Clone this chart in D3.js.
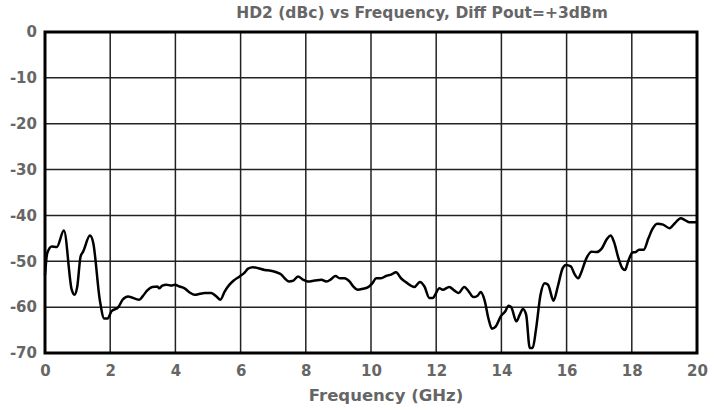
<!DOCTYPE html>
<html>
<head>
<meta charset="utf-8">
<script src="https://cdn.jsdelivr.net/npm/d3@7"></script>
<style>
  body { margin: 0; background: #fff; }
  text { font-family: "DejaVu Sans", sans-serif; font-weight: bold; fill: #666; }
</style>
</head>
<body>
<div id="chart"></div>
<script>
// data
let freq = [0.00, 0.07, 0.21, 0.36, 0.58, 0.82, 0.90, 0.99, 1.09, 1.17, 1.38, 1.48, 1.68, 1.82, 1.92,
    2.04, 2.25, 2.38, 2.55, 2.89, 3.00, 3.13, 3.29, 3.45, 3.50, 3.60, 3.72, 3.88, 3.98, 4.13,
    4.28, 4.44, 4.59, 4.75, 4.90, 5.10, 5.26, 5.38, 5.51, 5.66, 5.79, 5.97, 6.13, 6.23, 6.38,
    6.54, 6.74, 6.89, 7.10, 7.25, 7.35, 7.48, 7.62, 7.76, 7.91, 8.06, 8.27, 8.48, 8.63, 8.78,
    8.91, 9.04, 9.19, 9.34, 9.46, 9.60, 9.75, 9.90, 10.04, 10.16, 10.31, 10.46, 10.62, 10.77, 10.92,
    11.08, 11.33, 11.50, 11.64, 11.79, 11.89, 12.10, 12.20, 12.40, 12.56, 12.69, 12.86, 13.00, 13.14, 13.27,
    13.37, 13.48, 13.61, 13.71, 13.83, 13.98, 14.12, 14.22, 14.30, 14.46, 14.56, 14.66, 14.76, 14.87, 14.96,
    15.06, 15.20, 15.33, 15.43, 15.60, 15.73, 15.88, 15.98, 16.13, 16.23, 16.36, 16.44, 16.61, 16.76, 16.92,
    17.07, 17.25, 17.35, 17.45, 17.59, 17.71, 17.79, 17.89, 18.02, 18.12, 18.22, 18.36, 18.51, 18.63, 18.78,
    18.96, 19.16, 19.32, 19.50, 19.63, 19.77, 19.94, 20.00];
let hd2 = [-53.0, -48.2, -46.8, -46.9, -43.3, -56.2, -57.3, -55.5, -49.0, -47.9, -44.4, -46.0, -58.4, -62.5, -62.5,
    -60.9, -60.0, -58.4, -57.7, -58.4, -57.6, -56.4, -55.6, -55.5, -55.9, -55.3, -55.1, -55.3, -55.1, -55.5,
    -55.9, -56.8, -57.3, -57.1, -56.9, -56.9, -57.7, -58.4, -56.6, -55.1, -54.2, -53.3, -52.4, -51.6, -51.3,
    -51.5, -51.9, -52.0, -52.4, -52.9, -53.7, -54.4, -54.2, -53.3, -54.0, -54.4, -54.2, -54.0, -54.4, -53.9,
    -53.2, -53.7, -53.7, -54.4, -55.5, -56.2, -56.0, -55.7, -54.8, -53.7, -53.7, -53.2, -52.9, -52.4, -53.7,
    -54.6, -55.6, -54.5, -55.5, -58.0, -58.0, -55.9, -56.2, -55.6, -56.4, -56.9, -55.6, -56.6, -57.8, -57.5,
    -56.7, -58.4, -62.7, -64.7, -64.2, -62.0, -60.9, -59.7, -60.0, -63.1, -61.7, -60.4, -61.7, -68.9, -68.9,
    -64.9, -57.3, -54.8, -55.1, -58.6, -55.5, -51.5, -50.8, -51.1, -52.6, -53.7, -52.6, -49.3, -47.9, -48.0,
    -47.3, -45.0, -44.4, -45.7, -49.3, -51.5, -51.9, -50.0, -48.1, -48.0, -47.5, -47.5, -45.0, -43.0, -41.8,
    -42.0, -42.8, -41.7, -40.6, -41.0, -41.5, -41.5, -41.5];
let xTicks = [0, 2, 4, 6, 8, 10, 12, 14, 16, 18, 20];
let yTicks = [0, -10, -20, -30, -40, -50, -60, -70];
let chartTitle = "HD2 (dBc) vs Frequency, Diff Pout=+3dBm";
let xTitle = "Frequency (GHz)";

var margin = {top: 32, right: 17, bottom: 57, left: 45}
    , width = 714 - margin.left - margin.right
    , height = 410 - margin.top - margin.bottom;

var svg = d3.select("#chart").append("svg")
    .attr("width", 714)
    .attr("height", 410)
    .append("g")
    .attr("transform", "translate(" + margin.left + "," + margin.top + ")");

var xScale = d3.scaleLinear().domain([0, 20]).range([0, width]);
var yScale = d3.scaleLinear().domain([-70, 0]).range([height, 0]);

// grid
svg.append("g")
    .selectAll("line.vg")
    .data(xTicks)
    .enter().append("line")
    .attr("x1", d => xScale(d)).attr("x2", d => xScale(d))
    .attr("y1", 0).attr("y2", height)
    .attr("stroke", "#222").attr("stroke-width", 1.5);

svg.append("g")
    .selectAll("line.hg")
    .data(yTicks)
    .enter().append("line")
    .attr("x1", 0).attr("x2", width)
    .attr("y1", d => yScale(d)).attr("y2", d => yScale(d))
    .attr("stroke", "#222").attr("stroke-width", 1.5);

// axes (labels only)
var xAxis = svg.append("g")
    .attr("transform", "translate(0," + height + ")")
    .call(d3.axisBottom(xScale).tickValues(xTicks).tickSize(0).tickPadding(12));
xAxis.select(".domain").remove();
xAxis.selectAll("text").style("font-size", "15px").attr("fill", "#666").attr("font-family", null);

var yAxis = svg.append("g")
    .call(d3.axisLeft(yScale).tickValues(yTicks).tickSize(0).tickPadding(8)
        .tickFormat(d => String(d)));
yAxis.select(".domain").remove();
yAxis.selectAll("text").style("font-size", "15px").attr("fill", "#666").attr("font-family", null);

// frame
svg.append("rect")
    .attr("x", 0).attr("y", 0)
    .attr("width", width).attr("height", height)
    .attr("fill", "none")
    .attr("stroke", "#000").attr("stroke-width", 3);

var dataset = freq.map((f, i) => ({x: f, y: hd2[i]}));
var line = d3.line()
    .x(d => xScale(d.x))
    .y(d => yScale(d.y))
    .curve(d3.curveMonotoneX);

svg.append("path")
    .datum(dataset)
    .attr("fill", "none")
    .attr("stroke", "#000")
    .attr("stroke-width", 2.5)
    .attr("stroke-linejoin", "round")
    .attr("d", line);

// titles
svg.append("text")
    .attr("x", 422 - margin.left)
    .attr("y", 13 - margin.top)
    .attr("dy", "0.35em")
    .attr("text-anchor", "middle")
    .style("font-size", "15.5px")
    .text(chartTitle);

svg.append("text")
    .attr("x", 386 - margin.left)
    .attr("y", 395 - margin.top)
    .attr("dy", "0.35em")
    .attr("text-anchor", "middle")
    .style("font-size", "16.5px")
    .text(xTitle);
</script>
</body>
</html>
